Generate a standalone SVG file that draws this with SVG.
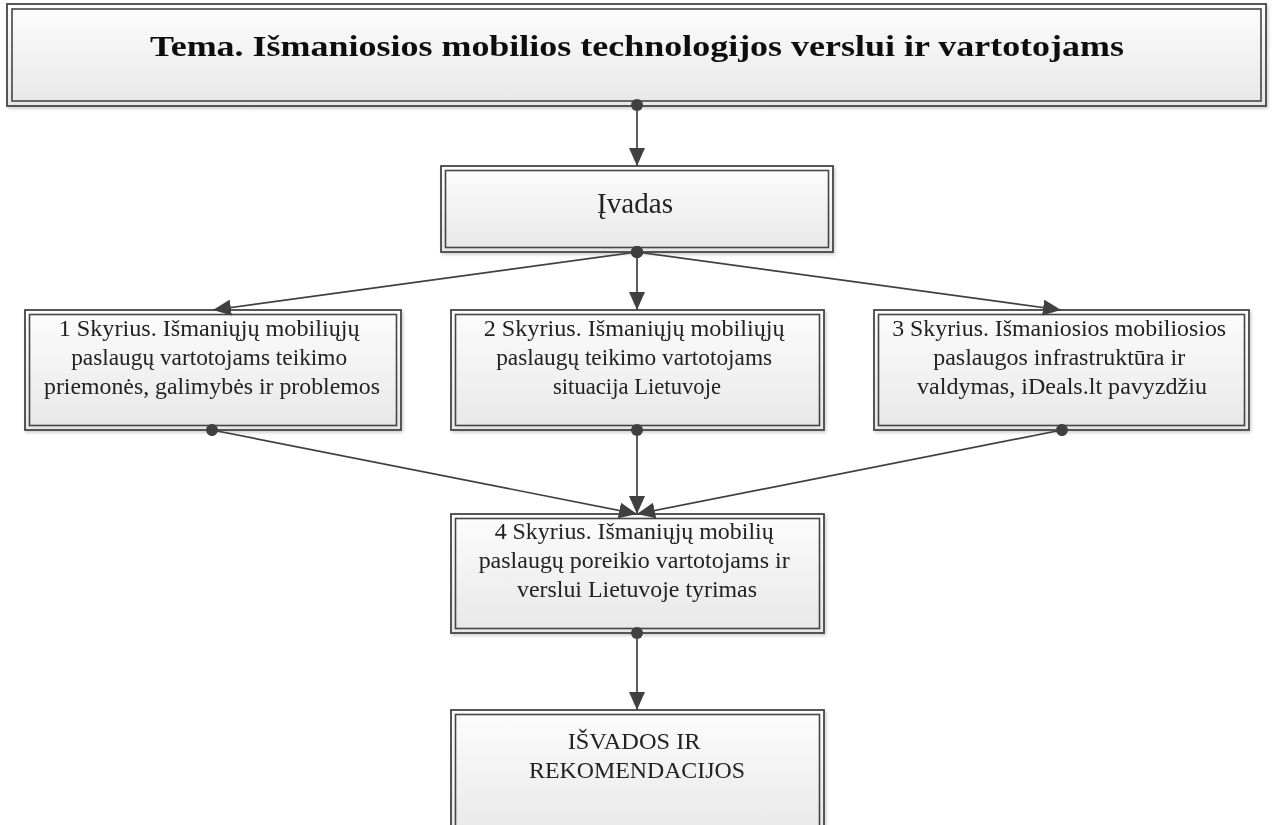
<svg xmlns="http://www.w3.org/2000/svg" width="1272" height="825" viewBox="0 0 1272 825">
  <style>
    .frame { fill: url(#boxFill); stroke: #454545; stroke-width: 1.8; }
    .inner { fill: none; stroke: #454545; stroke-width: 1.6; }
    .node { filter: url(#softShadow); }
    .lbl { font-family: "Liberation Serif", "Times New Roman", serif; fill: #222; text-anchor: middle; }
    .body { font-size: 23px; }
    .title { font-size: 30px; font-weight: bold; fill: #111; }
    .link { stroke: #404040; stroke-width: 1.7; fill: none; marker-start: url(#dot); marker-end: url(#arrow); }
  </style>
  <defs>
    <linearGradient id="boxFill" x1="0" y1="0" x2="0" y2="1">
      <stop offset="0" stop-color="#fdfdfd"/>
      <stop offset="1" stop-color="#e7e7e7"/>
    </linearGradient>
    <filter id="softShadow" x="-5%" y="-10%" width="110%" height="125%">
      <feDropShadow dx="1.5" dy="2" stdDeviation="1.5" flood-color="#000" flood-opacity="0.18"/>
    </filter>
    <marker id="arrow" viewBox="0 0 18 16" refX="18" refY="8" markerWidth="18" markerHeight="16" markerUnits="userSpaceOnUse" orient="auto">
      <path d="M0,0 L18,8 L0,16 z" fill="#404040"/>
    </marker>
    <marker id="dot" viewBox="0 0 14 14" refX="7" refY="7" markerWidth="14" markerHeight="14" markerUnits="userSpaceOnUse" orient="auto">
      <circle cx="7" cy="7" r="6" fill="#404040"/>
    </marker>
  </defs>

  <rect width="1272" height="825" fill="#ffffff"/>

  <!-- topic banner -->
  <g id="tema" class="node">
    <rect class="frame" x="7" y="4" width="1259" height="102"/>
    <rect class="inner" x="12" y="9" width="1249" height="92"/>
    <text class="lbl title" x="637" y="56" textLength="974" lengthAdjust="spacingAndGlyphs">Tema. Išmaniosios mobilios technologijos verslui ir vartotojams</text>
  </g>

  <!-- introduction -->
  <g id="ivadas" class="node">
    <rect class="frame" x="441" y="166" width="392" height="86"/>
    <rect class="inner" x="445.5" y="170.5" width="383" height="77"/>
    <text class="lbl" x="635" y="213" style="font-size:30px" textLength="76" lengthAdjust="spacingAndGlyphs">Įvadas</text>
  </g>

  <!-- chapter 1 -->
  <g id="skyrius1" class="node">
    <rect class="frame" x="25" y="310" width="376" height="120"/>
    <rect class="inner" x="29.5" y="314.5" width="367" height="111"/>
    <text class="lbl body">
      <tspan x="212" y="336" textLength="301" lengthAdjust="spacingAndGlyphs">1 Skyrius. Išmaniųjų mobiliųjų</tspan>
      <tspan x="212" y="365" textLength="276" lengthAdjust="spacingAndGlyphs">paslaugų vartotojams teikimo</tspan>
      <tspan x="212" y="394" textLength="336" lengthAdjust="spacingAndGlyphs">priemonės, galimybės ir problemos</tspan>
    </text>
  </g>

  <!-- chapter 2 -->
  <g id="skyrius2" class="node">
    <rect class="frame" x="451" y="310" width="373" height="120"/>
    <rect class="inner" x="455.5" y="314.5" width="364" height="111"/>
    <text class="lbl body">
      <tspan x="637" y="336" textLength="301" lengthAdjust="spacingAndGlyphs">2 Skyrius. Išmaniųjų mobiliųjų</tspan>
      <tspan x="637" y="365" textLength="276" lengthAdjust="spacingAndGlyphs">paslaugų teikimo vartotojams</tspan>
      <tspan x="637" y="394" textLength="168" lengthAdjust="spacingAndGlyphs">situacija Lietuvoje</tspan>
    </text>
  </g>

  <!-- chapter 3 -->
  <g id="skyrius3" class="node">
    <rect class="frame" x="874" y="310" width="375" height="120"/>
    <rect class="inner" x="878.5" y="314.5" width="366" height="111"/>
    <text class="lbl body">
      <tspan x="1062" y="336" textLength="334" lengthAdjust="spacingAndGlyphs">3 Skyrius. Išmaniosios mobiliosios</tspan>
      <tspan x="1062" y="365" textLength="252" lengthAdjust="spacingAndGlyphs">paslaugos infrastruktūra ir</tspan>
      <tspan x="1062" y="394" textLength="290" lengthAdjust="spacingAndGlyphs">valdymas, iDeals.lt pavyzdžiu</tspan>
    </text>
  </g>

  <!-- chapter 4 -->
  <g id="skyrius4" class="node">
    <rect class="frame" x="451" y="514" width="373" height="119"/>
    <rect class="inner" x="455.5" y="518.5" width="364" height="110"/>
    <text class="lbl body">
      <tspan x="637" y="539" textLength="279" lengthAdjust="spacingAndGlyphs">4 Skyrius. Išmaniųjų mobilių</tspan>
      <tspan x="637" y="568" textLength="311" lengthAdjust="spacingAndGlyphs">paslaugų poreikio vartotojams ir</tspan>
      <tspan x="637" y="597" textLength="240" lengthAdjust="spacingAndGlyphs">verslui Lietuvoje tyrimas</tspan>
    </text>
  </g>

  <!-- conclusions -->
  <g id="isvados" class="node">
    <rect class="frame" x="451" y="710" width="373" height="130"/>
    <rect class="inner" x="455.5" y="714.5" width="364" height="121"/>
    <text class="lbl body">
      <tspan x="637" y="749" textLength="133" lengthAdjust="spacingAndGlyphs">IŠVADOS IR</tspan>
      <tspan x="637" y="778" textLength="216" lengthAdjust="spacingAndGlyphs">REKOMENDACIJOS</tspan>
    </text>
  </g>

  <!-- connectors -->
  <g id="connectors">
    <line class="link" x1="637" y1="105" x2="637" y2="166"/>
    <line class="link" x1="637" y1="252" x2="213" y2="310"/>
    <line class="link" x1="637" y1="252" x2="637" y2="310"/>
    <line class="link" x1="637" y1="252" x2="1061" y2="310"/>
    <line class="link" x1="212" y1="430" x2="637" y2="514"/>
    <line class="link" x1="637" y1="430" x2="637" y2="514"/>
    <line class="link" x1="1062" y1="430" x2="637" y2="514"/>
    <line class="link" x1="637" y1="633" x2="637" y2="710"/>
  </g>
</svg>
